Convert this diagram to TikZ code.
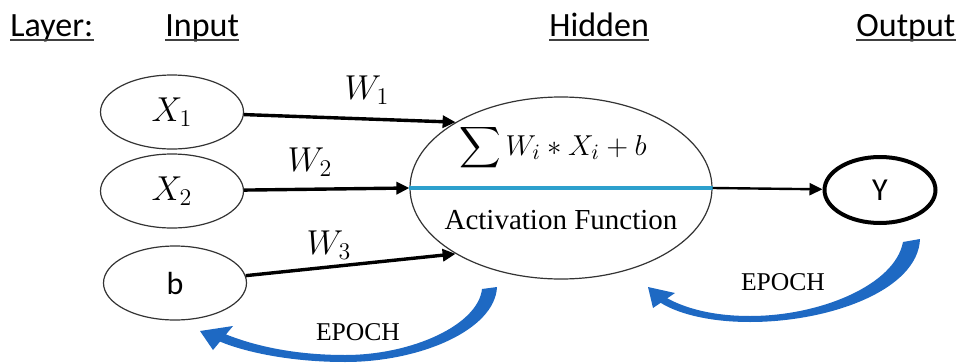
\documentclass[tikz,border=0pt]{standalone}
\usepackage{amsmath}
\usepackage{fontspec}
\setmainfont{Liberation Serif}
\newfontfamily\calibri{Carlito}
\usetikzlibrary{shapes.geometric}
\usetikzlibrary{arrows.meta}
\definecolor{epochblue}{RGB}{30,105,195}
\definecolor{cutblue}{RGB}{45,160,205}

\begin{document}
\begin{tikzpicture}[x=0.5pt, y=-0.5pt, inner sep=0pt,
  inbox/.style={ellipse, draw=black!80, line width=0.6pt, minimum width=71.5pt, minimum height=37pt},
  hidbox/.style={ellipse, draw=black!80, line width=0.6pt, minimum width=151pt, minimum height=91pt},
  outbox/.style={ellipse, draw, line width=2pt, minimum width=55.5pt, minimum height=33pt},
  head/.style={anchor=base west, font=\calibri\fontsize{17}{20}\selectfont},
  mlabel/.style={font=\fontsize{17}{20}\selectfont},
  sanslabel/.style={font=\calibri\fontsize{16}{19}\selectfont},
  wire/.style={line width=1.7pt, -{Triangle[length=6.5pt,width=6pt]}},
  epoch/.style={font=\fontsize{12.8}{15}\selectfont}]
\useasboundingbox (0,0) rectangle (959,364);

\node[head] (lay) at (10,36) {Layer:};
\node[head] (inp) at (165,36) {Input};
\node[head] (hdn) at (549,36) {Hidden};
\node[head] (outp) at (856,36) {Output};
\foreach \n in {lay,inp,hdn,outp}
  \draw[black!75, line width=1pt] ([yshift=-2pt]\n.base west) -- ([yshift=-2pt]\n.base east);

\node[inbox, mlabel] (x1) at (172,112) {$X_1$};
\node[inbox, mlabel] (x2) at (172,191) {$X_2$};
\node[inbox, sanslabel] (bias) at (175,283) {b};
\node[hidbox] (hid) at (561,188) {};
\node[outbox, sanslabel] (y) at (880,190) {Y};

\node[font=\fontsize{15}{18}\selectfont] (sum) at (553,148) {$\displaystyle\sum W_i \ast X_i + b$};
\node[font=\fontsize{14.5}{17}\selectfont] (act) at (561,220) {Activation Function};

\draw[cutblue, line width=1.6pt] (hid.west) -- (hid.east);
\draw[wire] (x1) -- (hid.148);
\draw[wire] (x2) -- (hid.west);
\draw[wire] (bias) -- (hid.212);
\draw[wire, line width=1.2pt] (hid.east) -- (y);

\node[mlabel] (w1) at (367,90) {$W_1$};
\node[mlabel] (w2) at (310,162) {$W_2$};
\node[mlabel] (w3) at (329,245) {$W_3$};

% feedback arrows
\fill[epochblue] (497,287) .. controls (495,330) and (420,362) .. (345,362)
  .. controls (290,362) and (245,352) .. (220,341.6) -- (213,350) -- (200,331)
  -- (233,326) -- (226,334.4) .. controls (255,346) and (295,355) .. (345,355)
  .. controls (412,355) and (478,325) .. (482,289) -- cycle;
\fill[epochblue] (920,239) .. controls (918,290) and (830,322) .. (750,322)
  .. controls (705,322) and (675,312) .. (660.7,302.8) -- (653,308) -- (648,287)
  -- (675,293) -- (667.3,298.3) .. controls (685,308) and (712,316) .. (750,316)
  .. controls (820,316) and (895,285) .. (903,242) -- cycle;
\node[epoch] (ep1) at (358,332) {EPOCH};
\node[epoch] (ep2) at (783,282) {EPOCH};
\end{tikzpicture}
\end{document}
